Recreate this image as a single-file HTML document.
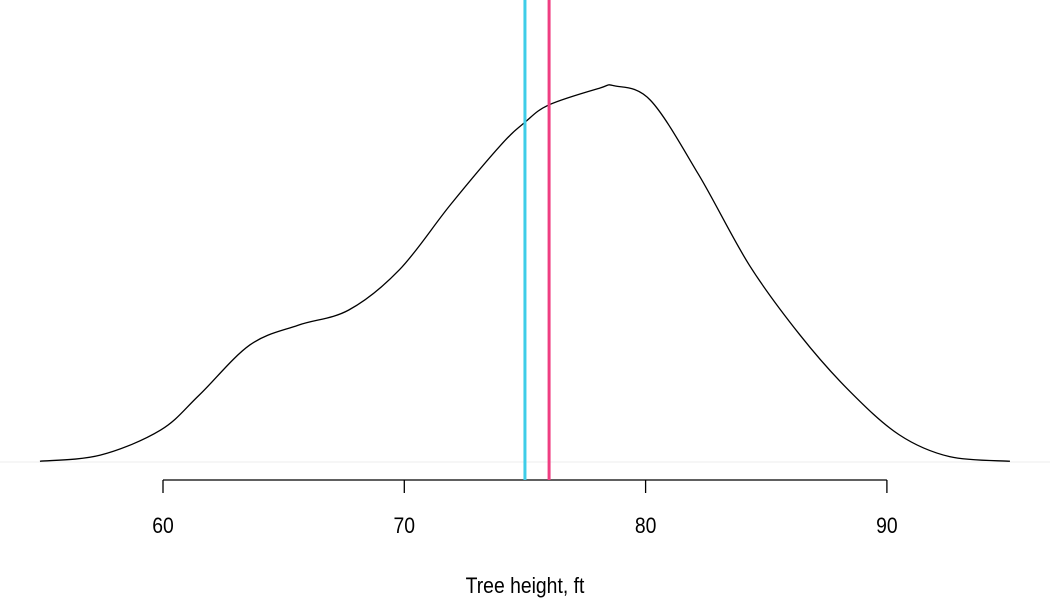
<!DOCTYPE html>
<html><head><meta charset="utf-8"><style>
body{margin:0;background:#fff;}
svg{display:block;font-family:"Liberation Sans",sans-serif;}
</style></head><body>
<svg id="chart" width="1050" height="600">
<line x1="0" x2="1050" y1="462" y2="462" stroke="#eeeeee" stroke-width="1"/>
<g id="axis"></g>
<path id="curve" fill="none" stroke="#000" stroke-width="1.3"/>
<g id="vlines"></g>
<text x="525" y="593" text-anchor="middle" font-size="22" transform="translate(525 0) scale(0.88 1) translate(-525 0)">Tree height, ft</text>
</svg>
<script>
const heights=[54.9,57.4,59.9,61.5,63.6,65.6,67.7,69.8,71.9,74.0,75.0,76.0,78.1,78.7,80.2,82.2,84.3,86.4,88.4,90.5,92.6,95.1];
const densities=[0.0001,0.0009,0.0042,0.0088,0.0154,0.0180,0.0200,0.0253,0.0338,0.0417,0.0447,0.0470,0.0492,0.0495,0.0476,0.0378,0.0259,0.0167,0.0095,0.0036,0.0007,0.0001];
const ticks=[60,70,80,90];
const markers=[75.0,76.0];
const markerColors=["#3fcde8","#f03e82"];
const NS="http://www.w3.org/2000/svg";
const xs=v=>163+(v-60)*24.13;
const ys=d=>462-d*7600;
const pts=heights.map((h,i)=>[xs(h),ys(densities[i])]);
let d="M"+pts[0][0]+","+pts[0][1];
for(let i=0;i<pts.length-1;i++){
 const p0=pts[Math.max(0,i-1)],p1=pts[i],p2=pts[i+1],p3=pts[Math.min(pts.length-1,i+2)];
 const c1=[p1[0]+(p2[0]-p0[0])/6,p1[1]+(p2[1]-p0[1])/6];
 const c2=[p2[0]-(p3[0]-p1[0])/6,p2[1]-(p3[1]-p1[1])/6];
 d+=`C${c1[0]},${c1[1]} ${c2[0]},${c2[1]} ${p2[0]},${p2[1]}`;
}
document.getElementById('curve').setAttribute('d',d);
const ax=document.getElementById('axis');
const base=document.createElementNS(NS,'line');
base.setAttribute('x1',xs(ticks[0]));base.setAttribute('x2',xs(ticks[ticks.length-1]));
base.setAttribute('y1',480);base.setAttribute('y2',480);base.setAttribute('stroke','#000');base.setAttribute('stroke-width','1.3');


ax.appendChild(base);
ticks.forEach(t=>{
 const l=document.createElementNS(NS,'line');
 l.setAttribute('x1',xs(t));l.setAttribute('x2',xs(t));l.setAttribute('y1',480);l.setAttribute('y2',493);
 l.setAttribute('stroke','#000');l.setAttribute('stroke-width','1.3');
 
 
 ax.appendChild(l);
 const tx=document.createElementNS(NS,'text');
 tx.setAttribute('x',xs(t));tx.setAttribute('y',533);tx.setAttribute('text-anchor','middle');tx.setAttribute('font-size','22');
 tx.setAttribute('transform',`translate(${xs(t)} 0) scale(0.88 1) translate(${-xs(t)} 0)`);
 tx.textContent=t;
 
 
 ax.appendChild(tx);
});
const vg=document.getElementById('vlines');
markers.forEach((m,i)=>{
 const l=document.createElementNS(NS,'line');
 l.setAttribute('x1',xs(m));l.setAttribute('x2',xs(m));l.setAttribute('y1',0);l.setAttribute('y2',480);
 l.setAttribute('stroke',markerColors[i]);l.setAttribute('stroke-width','3');
 
 
 vg.appendChild(l);
});
</script>
</body></html>
